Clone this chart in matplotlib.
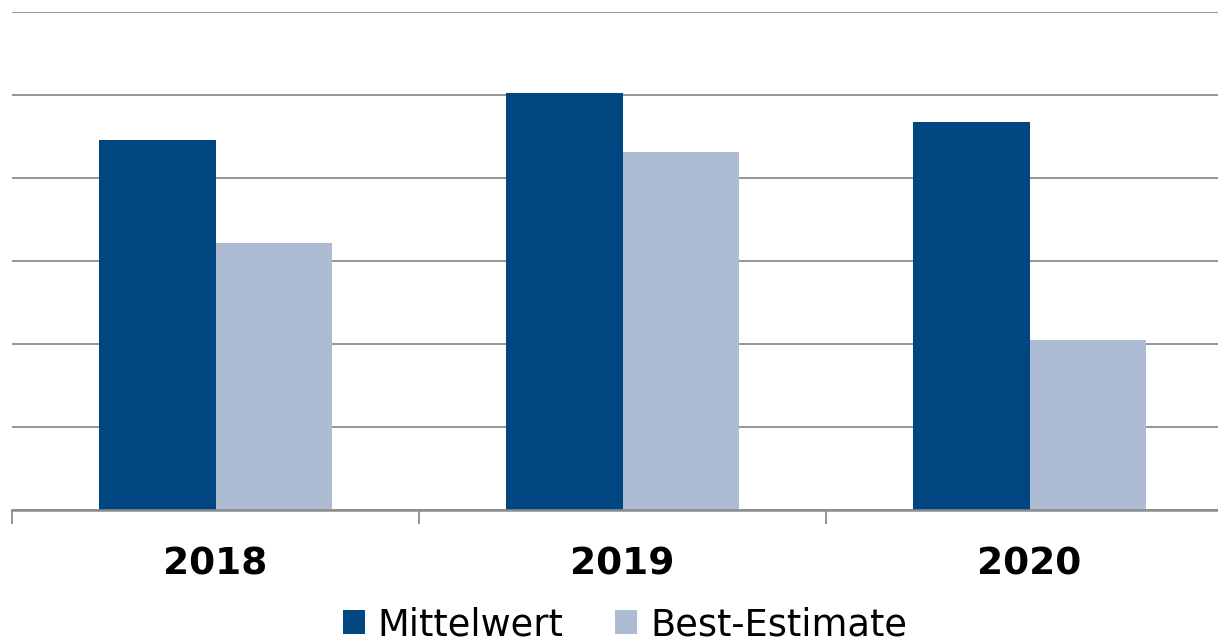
import matplotlib
matplotlib.use("Agg")
import matplotlib.pyplot as plt
import numpy as np

years = ["2018", "2019", "2020"]
series_names = ["Mittelwert", "Best-Estimate"]
mittelwert = [4.46, 5.02, 4.67]
best_estimate = [3.22, 4.31, 2.05]
colors = ["#004680", "#ADBCD3"]

W, H = 1218, 644
fig = plt.figure(figsize=(W / 100, H / 100), dpi=100)
ax = fig.add_axes([12 / W, (H - 510) / H, (1218 - 12) / W, (510 - 12) / H])

x = np.arange(len(years))
bw = 0.287
ax.bar(x - bw / 2, mittelwert, bw, color=colors[0], label=series_names[0], zorder=3)
ax.bar(x + bw / 2, best_estimate, bw, color=colors[1], label=series_names[1], zorder=3)

ax.set_ylim(0, 6)
ax.set_xlim(-0.5, 2.5 - 15 / 407)
ax.set_yticks(np.arange(0, 7, 1))
ax.yaxis.grid(True, color="#8c8c8c", linewidth=1.3, zorder=0)
ax.tick_params(axis="y", left=False, labelleft=False)
for s in ["top", "right", "left"]:
    ax.spines[s].set_visible(False)
ax.spines["bottom"].set_color("#8c8c8c")
ax.spines["bottom"].set_linewidth(1.8)
ax.spines["bottom"].set_zorder(4)

ax.set_xticks([-0.5, 0.5, 1.5])
ax.set_xticks(x, minor=True)
ax.set_xticklabels([])
ax.set_xticklabels(years, minor=True, fontsize=27, fontweight="bold")
ax.tick_params(axis="x", which="major", length=10, width=1.3, color="#8c8c8c", direction="out")
ax.tick_params(axis="x", which="minor", length=0, pad=26)

fig.legend(loc="lower center", bbox_to_anchor=(0.513, -0.05), ncol=2, frameon=False,
           fontsize=26.5, handlelength=0.6, handleheight=0.6, handletextpad=0.35,
           columnspacing=1.4)

fig.savefig("out.png", dpi=100)
